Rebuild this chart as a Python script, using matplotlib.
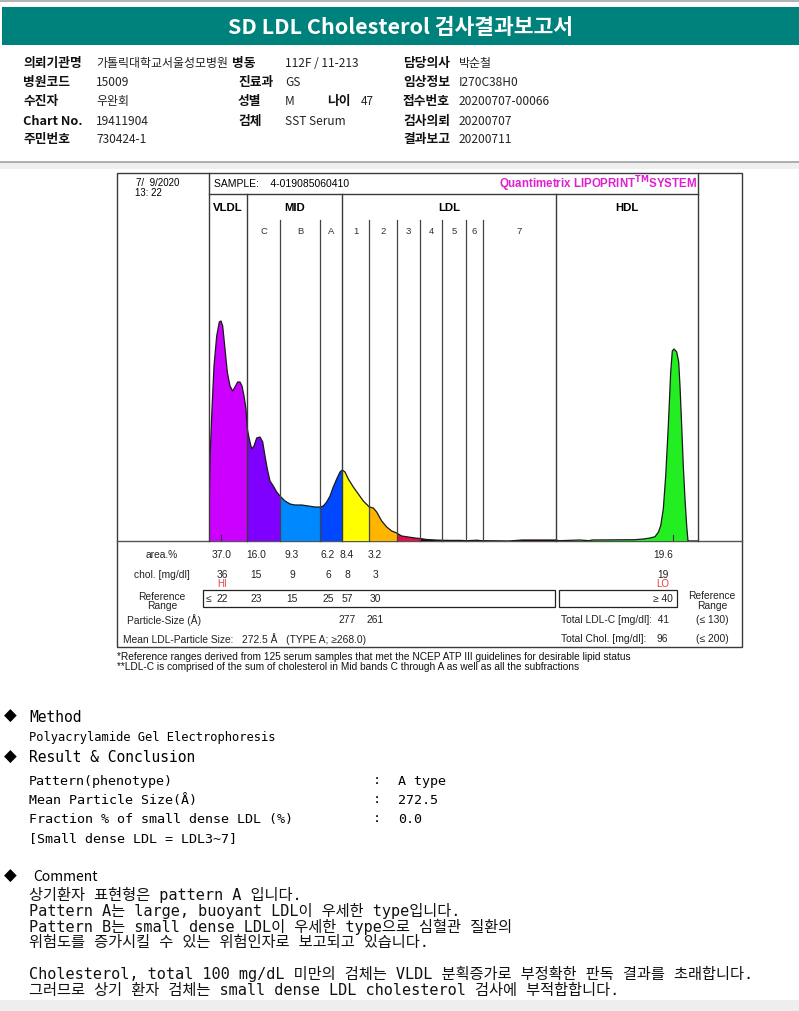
import matplotlib
matplotlib.use("Agg")
import matplotlib.pyplot as plt
from matplotlib.patches import Rectangle
import numpy as np

# ---------------- data ----------------
title = "SD LDL Cholesterol 검사결과보고서"
info_rows = [
    [("의뢰기관명", "가톨릭대학교서울성모병원"), ("병동", "112F / 11-213"), None, ("담당의사", "박순철")],
    [("병원코드", "15009"), ("진료과", "GS"), None, ("임상정보", "I270C38H0")],
    [("수진자", "우완회"), ("성별", "M"), ("나이", "47"), ("접수번호", "20200707-00066")],
    [("Chart No.", "19411904"), ("검체", "SST Serum"), None, ("검사의뢰", "20200707")],
    [("주민번호", "730424-1"), None, None, ("결과보고", "20200711")],
]

# densitometry scan: mobility position along the strip, relative absorbance
scan_pos = [0, 0.3, 1, 2.7, 5, 7.7, 10.3, 12, 13.7, 16, 18.3, 21, 23.7, 26, 28.7, 31, 33, 35,
            37, 38.3, 40.3, 42.7, 45, 47.7, 51, 53.7, 56, 58.3, 61, 64.3, 67.7, 71, 76, 81, 86,
            92.7, 99.3, 106, 111, 114.3, 117.7, 121, 124.3, 127.7, 131, 133.3, 136, 139.3, 144.3,
            149.3, 154.3, 160.3, 164.3, 167.7, 172.7, 177.7, 182.7, 187.7, 192.7, 199.3, 206, 211,
            217.7, 226, 234.3, 241, 251, 258, 268, 272, 300, 313, 347, 350, 371, 380, 383, 426,
            434.3, 441, 446, 449.3, 451.7, 454.3, 456.7, 459.3, 461.7, 463.3, 465, 467.7, 469.7,
            471, 472.7, 474.3, 476, 477.7, 479, 489]
scan_abs = [0, 42, 82, 125, 175, 205, 219, 220, 215, 192, 169, 155, 150, 154, 159, 159, 155, 145,
            132, 112, 102, 92, 95, 103, 104, 99, 85, 72, 60, 55, 49, 45, 40, 37, 36,
            36, 35, 34, 34, 35, 39, 45, 54, 62, 69, 71, 69, 62, 54,
            47, 40, 34, 33, 29, 20, 14, 10, 8, 5, 4, 3, 2.5,
            1.5, 1, 0.7, 0.6, 0.6, 0.3, 0.8, 0.3, 0, 1, 1, 0.3, 1, 0.3, 1, 1.3,
            2, 3, 4.3, 8.7, 15.3, 32, 65, 115, 169, 190, 192, 189, 179,
            155, 115, 75, 42, 15, 0, 0]
peak_pos = [12, 464]

band_names = ["VLDL", "C", "B", "A", "1", "2", "3", "4", "5", "6", "7", "HDL"]
band_edges = [0, 38, 71, 111, 133, 160, 188, 211, 233, 257, 274, 347, 489]
band_colors = ["#CC00FF", "#8000FF", "#0088FF", "#0048FF", "#FFFF00", "#FFB400",
               "#E0104C", "#300000", "#300000", "#300000", "#300000", "#22EE22"]
group_names = ["VLDL", "MID", "LDL", "HDL"]
group_edges = [0, 38, 133, 347, 489]

area_pct = ["37.0", "16.0", "9.3", "6.2", "8.4", "3.2"]
chol = ["36", "15", "9", "6", "8", "3"]
ref_range = ["22", "23", "15", "25", "57", "30"]
particle_size = ["277", "261"]
hdl_area, hdl_chol, hdl_ref = "19.6", "19", "40"
flags = {"VLDL": "HI", "HDL": "LO"}
total_ldl, total_ldl_ref = "41", "(≤ 130)"
total_chol, total_chol_ref = "96", "(≤ 200)"
mean_size = "272.5 Å"

# ---------------- figure ----------------
W, H = 799, 1012
fig = plt.figure(figsize=(W / 100, H / 100), dpi=100)
bg = fig.add_axes([0, 0, 1, 1])
bg.set_xlim(0, W)
bg.set_ylim(H, 0)
bg.axis("off")

KR = ["Noto Sans CJK KR", "DejaVu Sans"]
AR = ["Liberation Sans", "DejaVu Sans"]
MONO = ["DejaVu Sans Mono", "Noto Sans CJK KR"]

# header
bg.add_patch(Rectangle((0, 0), W, 2.5, color="#B4B4B4", lw=0))
bg.add_patch(Rectangle((2, 8), W - 2, 38, color="#00827C", lw=0))
bg.text(400, 27.5, title, color="white", fontsize=15.5, fontweight="bold",
        family=KR, ha="center", va="center")

row_y = [63, 82, 101, 121, 139]
lab_x = [23, 232, 327, 403]
val_x = [96, 285, 361, 459]
for r, row in enumerate(info_rows):
    for c, cell in enumerate(row):
        if cell is None:
            continue
        lab, val = cell
        lx = lab_x[c]
        if r > 0 and c == 1:
            lx = 238
        bg.text(lx, row_y[r], lab, fontsize=9.2, fontweight="bold", family=KR,
                va="center", ha="left", color="#111")
        bg.text(val_x[c], row_y[r], val, fontsize=8.6, family=KR,
                va="center", ha="left", color="#222")

bg.plot([0, W], [163, 163], color="#A0A0A0", lw=1.2)
bg.add_patch(Rectangle((0, 164), W, 6, color="#EFEFEF", lw=0))

# ---------------- chart frame ----------------
BX0, BX1, BY0, BY1 = 117, 742, 174, 648
SX0, SX1, SY0, SY1 = 209, 698, 195, 542
frame_c = "#3A3A3A"
bg.add_patch(Rectangle((BX0, BY0), BX1 - BX0, BY1 - BY0, fill=False, ec=frame_c, lw=1.0))
bg.plot([SX0, SX1], [SY0, SY0], color=frame_c, lw=1.0)
bg.plot([BX0, BX1], [SY1, SY1], color="#555", lw=1.0)

bg.text(136, 183, "7/  9/2020", fontsize=7, family=AR, va="center", ha="left")
bg.text(135, 193, "13: 22", fontsize=7, family=AR, va="center", ha="left")
bg.text(214, 184, "SAMPLE:    4-019085060410", fontsize=7.5, family=AR, va="center", ha="left")
bg.text(697, 184.5, r"Quantimetrix LIPOPRINT$^{\mathbf{TM}}$SYSTEM", fontsize=8.3,
        fontweight="bold", color="#E020D0", family=AR, va="center", ha="right")

ax = fig.add_axes([SX0 / W, 1 - SY1 / H, (SX1 - SX0) / W, (SY1 - SY0) / H])
ax.set_xlim(0, SX1 - SX0)
ax.set_ylim(0, SY1 - SY0)
ax.axis("off")
ax.patch.set_alpha(0)

def yfrac(py):
    return (SY1 - py) / (SY1 - SY0)

xs = np.array(scan_pos)
ys = np.array(scan_abs)
poly = ax.fill(xs, ys, facecolor="none", edgecolor="none")[0]
for i, col in enumerate(band_colors):
    sp = ax.axvspan(band_edges[i], band_edges[i + 1], color=col, lw=0, zorder=1)
    sp.set_clip_path(poly)
ax.plot(xs, ys, color="#1A1A1A", lw=0.9, zorder=3, solid_joinstyle="round")
for p in peak_pos:
    ax.plot([p, p], [0, 6], color="#333", lw=0.8, zorder=3)

# band separator lines
for e in group_edges:
    top = yfrac(BY0) if e in (group_edges[0], group_edges[-1]) else 1.0
    ax.axvline(e, 0, top, color=frame_c, lw=1.0, clip_on=False, zorder=4)
for e in band_edges[1:-1]:
    if e in group_edges:
        continue
    ax.axvline(e, 0, yfrac(221), color="#444", lw=0.9, clip_on=False, zorder=4)

xt = ax.get_xaxis_transform()
for i, g in enumerate(group_names):
    mid = (group_edges[i] + group_edges[i + 1]) / 2
    ax.text(mid, yfrac(208), g, transform=xt, fontsize=8.2, fontweight="bold",
            family=AR, ha="center", va="center", clip_on=False)
for i, b in enumerate(band_names[1:-1], start=1):
    mid = (band_edges[i] + band_edges[i + 1]) / 2
    ax.text(mid, yfrac(231), b, transform=xt, fontsize=6.8, family=AR,
            ha="center", va="center", color="#333", clip_on=False)

# ---------------- table ----------------
col_x = [222, 256, 292, 328, 347, 375]
hdl_x = 663
tf = dict(fontsize=7.4, family=AR, va="center", color="#222")
bg.text(162, 555, "area.%", ha="center", **tf)
bg.text(162, 575, "chol. [mg/dl]", ha="center", **tf)
bg.text(162, 597, "Reference", ha="center", **tf)
bg.text(162, 606, "Range", ha="center", **tf)
for i in range(6):
    bg.text(col_x[i], 555, area_pct[i], ha="center", **tf)
    bg.text(col_x[i], 575, chol[i], ha="center", **tf)
    bg.text(col_x[i], 599.5, ref_range[i], ha="center", **tf)
bg.text(col_x[4], 620, particle_size[0], ha="center", **tf)
bg.text(col_x[5], 620, particle_size[1], ha="center", **tf)
bg.text(208, 599.5, "≤", ha="center", **tf)
bg.text(col_x[0], 584, flags["VLDL"], ha="center", fontsize=7, family=AR,
        va="center", color="#E04040")
bg.text(hdl_x, 555, hdl_area, ha="center", **tf)
bg.text(hdl_x, 575, hdl_chol, ha="center", **tf)
bg.text(hdl_x, 584, flags["HDL"], ha="center", fontsize=7, family=AR,
        va="center", color="#E04040")
bg.text(673, 599.5, "≥ " + hdl_ref, ha="right", **tf)
bg.add_patch(Rectangle((203, 591), 555 - 203, 17, fill=False, ec="#222", lw=0.9))
bg.add_patch(Rectangle((559, 591), 677 - 559, 17, fill=False, ec="#222", lw=0.9))
bg.text(712, 596, "Reference", ha="center", **tf)
bg.text(712, 606, "Range", ha="center", **tf)
bg.text(127, 620, "Particle-Size (Å)", ha="left", **tf)
bg.text(123, 639, "Mean LDL-Particle Size:   " + mean_size + "   (TYPE A; ≥268.0)", ha="left", **tf)
bg.text(561, 620, "Total LDL-C [mg/dl]:  " + total_ldl, ha="left", **tf)
bg.text(561, 639, "Total Chol. [mg/dl]:", ha="left", **tf)
bg.text(668, 639, total_chol, ha="right", **tf)
bg.text(712, 620, total_ldl_ref, ha="center", **tf)
bg.text(712, 639, total_chol_ref, ha="center", **tf)

fn = dict(fontsize=7.3, family=AR, va="center", ha="left", color="#111")
bg.text(117, 657, "*Reference ranges derived from 125 serum samples that met the NCEP ATP III guidelines for desirable lipid status", **fn)
bg.text(117, 667, "**LDL-C is comprised of the sum of cholesterol in Mid bands C through A as well as all the subfractions", **fn)

# ---------------- method / result / comment ----------------
bg.text(4, 716, "◆", fontsize=12, family=["DejaVu Sans"], va="center", ha="left")
bg.text(29, 717, "Method", fontsize=10.5, family=MONO, va="center", ha="left")
bg.text(29, 737, "Polyacrylamide Gel Electrophoresis", fontsize=8.7, family=MONO, va="center", ha="left")
bg.text(4, 757, "◆", fontsize=12, family=["DejaVu Sans"], va="center", ha="left")
bg.text(29, 758, "Result & Conclusion", fontsize=10.5, family=MONO, va="center", ha="left")

result_labels = ["Pattern(phenotype)", "Mean Particle Size(Å)", "Fraction % of small dense LDL (%)"]
result_values = ["A type", "272.5", "0.0"]
res_y = [782, 801, 820]
for lab, val, y in zip(result_labels, result_values, res_y):
    bg.text(29, y, lab, fontsize=9.6, family=MONO, va="center", ha="left")
    bg.text(377, y - 1, ":", fontsize=9.6, family=MONO, va="center", ha="center")
    bg.text(398, y, val, fontsize=9.6, family=MONO, va="center", ha="left")
bg.text(29, 839, "[Small dense LDL = LDL3~7]", fontsize=9.6, family=MONO, va="center", ha="left")

bg.text(4, 876, "◆", fontsize=12, family=["DejaVu Sans"], va="center", ha="left")
bg.text(33, 877, "Comment", fontsize=10, family=KR, va="center", ha="left")
comments = [
    "상기환자 표현형은 pattern A 입니다.",
    "Pattern A는 large, buoyant LDL이 우세한 type입니다.",
    "Pattern B는 small dense LDL이 우세한 type으로 심혈관 질환의",
    "위험도를 증가시킬 수 있는 위험인자로 보고되고 있습니다.",
    "",
    "Cholesterol, total 100 mg/dL 미만의 검체는 VLDL 분획증가로 부정확한 판독 결과를 초래합니다.",
    "그러므로 상기 환자 검체는 small dense LDL cholesterol 검사에 부적합합니다.",
]
cy = [895, 911, 927, 943, 958, 974, 991]
for t, y in zip(comments, cy):
    if t:
        bg.text(29, y, t, fontsize=11, family=MONO, va="center", ha="left", color="#111")

bg.add_patch(Rectangle((0, 1001), W, 11, color="#EEEEEE", lw=0))

fig.savefig("out.png", dpi=100)
